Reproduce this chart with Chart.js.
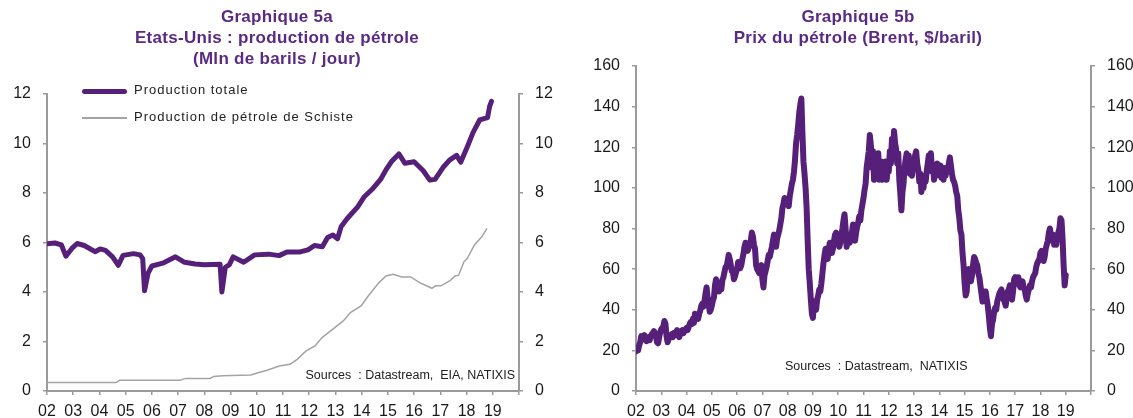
<!DOCTYPE html>
<html>
<head>
<meta charset="utf-8">
<script src="https://cdn.jsdelivr.net/npm/chart.js@4.4.0/dist/chart.umd.min.js"></script>
<style>
  body { margin: 0; background: #fff; width: 1133px; height: 418px; overflow: hidden; position: relative;
         font-family: "Liberation Sans", Arial, sans-serif; }
  canvas { position: absolute; top: 0; }
  .title { position: absolute; top: 6px; text-align: center; color: #5a2a82; font-weight: bold;
           font-size: 17px; line-height: 21px; letter-spacing: 0.3px; }
  .legend { position: absolute; left: 82px; font-size: 13px; color: #222; letter-spacing: 1px; }
  .legend div { position: relative; height: 27px; line-height: 14px; }
  .legend span.s { position: absolute; left: 0; top: 6px; width: 45px; }
  .legend span.t { position: absolute; left: 52px; top: 0; white-space: nowrap; }
  .src { position: absolute; font-size: 12.5px; color: #222; white-space: nowrap; }
</style>
</head>
<body>
<canvas id="chart-prod" width="560" height="418" style="left:0"></canvas>
<canvas id="chart-brent" width="563" height="418" style="left:570px"></canvas>

<div class="title" style="left:77px;width:400px">Graphique 5a<br>Etats-Unis : production de pétrole<br>(Mln de barils / jour)</div>
<div class="title" style="left:658px;width:400px">Graphique 5b<br>Prix du pétrole (Brent, $/baril)</div>

<div class="legend" style="top:83px">
  <div><span class="s" style="height:5px;border-radius:3px;background:#561f79"></span><span class="t">Production totale</span></div>
  <div><span class="s" style="top:7px;height:1.5px;background:#a3a3a3"></span><span class="t">Production de pétrole de Schiste</span></div>
</div>
<div class="src" style="right:618px;top:368px">Sources &nbsp;: Datastream,&nbsp; EIA, NATIXIS</div>
<div class="src" style="left:785px;top:359px">Sources &nbsp;: Datastream,&nbsp; NATIXIS</div>

<script>
// Graphique 5a : production totale (Mln b/j)
var prodT = [2002.0, 2002.3, 2002.55, 2002.72, 2002.95, 2003.15, 2003.42, 2003.83, 2004.03, 2004.23,
  2004.5, 2004.72, 2004.9, 2005.3, 2005.55, 2005.65, 2005.72, 2005.85, 2006.0, 2006.45,
  2006.9, 2007.25, 2007.65, 2008.0, 2008.6, 2008.67, 2008.8, 2008.95, 2009.1, 2009.5,
  2009.92, 2010.45, 2010.85, 2011.15, 2011.65, 2011.95, 2012.2, 2012.5, 2012.7, 2012.9,
  2013.08, 2013.22, 2013.45, 2013.85, 2014.1, 2014.4, 2014.72, 2014.92, 2015.13, 2015.42,
  2015.65, 2016.0, 2016.35, 2016.6, 2016.8, 2017.1, 2017.35, 2017.62, 2017.78, 2018.03,
  2018.25, 2018.5, 2018.8, 2018.88, 2018.95];
var prodV = [5.95, 5.98, 5.9, 5.45, 5.76, 5.96, 5.88, 5.63, 5.74, 5.68,
  5.42, 5.08, 5.48, 5.55, 5.5, 5.35, 4.05, 4.75, 5.05, 5.18,
  5.42, 5.2, 5.13, 5.1, 5.12, 4.0, 5.0, 5.1, 5.42, 5.2,
  5.5, 5.53, 5.47, 5.62, 5.62, 5.7, 5.88, 5.83, 6.2, 6.3,
  6.15, 6.65, 6.97, 7.44, 7.85, 8.15, 8.55, 8.92, 9.26, 9.58,
  9.2, 9.26, 8.9, 8.52, 8.55, 9.03, 9.33, 9.52, 9.25, 9.87,
  10.45, 10.95, 11.05, 11.5, 11.7];

// production de petrole de schiste
var shaleT = [2002.0, 2004.64, 2004.77, 2007.07, 2007.28, 2008.22, 2008.36, 2008.7, 2009.78, 2010.05,
  2010.39, 2010.86, 2011.27, 2011.54, 2011.88, 2012.22, 2012.49, 2012.89, 2013.3, 2013.57,
  2013.98, 2014.25, 2014.66, 2014.93, 2015.2, 2015.53, 2015.87, 2016.21, 2016.68, 2016.82,
  2017.02, 2017.36, 2017.56, 2017.7, 2017.9, 2018.03, 2018.3, 2018.58, 2018.78];
var shaleV = [0.34, 0.34, 0.43, 0.43, 0.51, 0.51, 0.59, 0.62, 0.65, 0.74,
  0.84, 1.01, 1.08, 1.28, 1.62, 1.82, 2.16, 2.49, 2.83, 3.17,
  3.44, 3.84, 4.38, 4.65, 4.72, 4.61, 4.61, 4.38, 4.15, 4.25,
  4.25, 4.45, 4.65, 4.68, 5.22, 5.36, 5.9, 6.23, 6.57];

// Graphique 5b : Brent, 2 valeurs par mois
var brent2002 = [19.5, 21, 20, 22.5, 24, 27, 26.5, 25.5, 27.5, 26, 24.5, 25.5, 26.5, 25, 27, 28, 28.5, 29.5, 28.5, 27, 24, 23.5, 26.5, 29];
var brent2003 = [30.5, 31, 32, 34.5, 33, 27, 24, 25.5, 26.5, 27, 28, 26.5, 28.5, 27.5, 29, 30, 27.5, 26.5, 28, 29.5, 30, 28.5, 29.5, 30.5];
var brent2004 = [31, 30, 31.5, 33, 34, 33, 35.5, 33.5, 38, 36, 37, 35.5, 38, 39.5, 42, 43, 41.5, 44, 48, 51, 46, 43, 39, 40];
var brent2005 = [42, 44.5, 46, 52, 55, 53, 51, 49, 52, 50, 54.5, 56, 58.5, 61, 61, 64, 67, 65, 62, 59, 58.5, 55, 56.5, 58.5];
var brent2006 = [60, 63.5, 61, 60.5, 62, 65, 67.5, 71, 73, 70, 69, 70.5, 72.5, 74, 78, 76, 72, 70, 62, 60, 59, 58, 61, 62];
var brent2007 = [55, 51, 57, 59, 61, 64, 67, 66, 68.5, 71, 74, 77, 76, 71, 75, 77, 79, 82, 85, 90, 92, 95, 92, 93];
var brent2008 = [93, 91, 96, 99, 102, 104, 108, 114, 122, 126, 131, 137, 141, 144, 127, 113, 107, 100, 90, 74, 60, 53, 45, 38];
var brent2009 = [36, 44, 42, 40, 45, 47, 50, 49, 53, 58, 63, 67, 70, 67, 65, 70, 73, 70, 68, 70, 74, 77, 78, 75];
var brent2010 = [76, 71, 73, 77, 80, 84, 87, 80, 71, 75, 77, 73, 76, 78, 82, 76, 74, 78, 81, 83, 86, 84, 89, 92];
var brent2011 = [95, 99, 102, 110, 114, 118, 126, 121, 110, 118, 104, 116, 112, 106, 117, 104, 108, 113, 104, 110, 106, 113, 104, 110];
var brent2012 = [108, 118, 112, 124, 118, 128, 122, 119, 112, 117, 104, 97, 89, 98, 102, 110, 114, 117, 109, 116, 107, 112, 106, 111];
var brent2013 = [110, 116, 118, 112, 109, 103, 107, 98, 104, 100, 106, 103, 108, 112, 116, 110, 117, 108, 111, 104, 110, 106, 112, 109];
var brent2014 = [107, 111, 105, 110, 104, 109, 106, 110, 108, 112, 115, 111, 107, 104, 103, 101, 98, 96, 89, 85, 79, 77, 68, 62];
var brent2015 = [53, 47, 49, 58, 60, 56, 54, 57, 62, 66, 65, 63, 62, 58, 56, 52, 48, 44, 49, 47, 49, 45, 42, 37];
var brent2016 = [31, 27, 33, 35, 39, 41, 40, 44, 46, 48, 49, 50, 47, 45, 44, 42, 46, 49, 50, 52, 47, 45, 49, 55];
var brent2017 = [56, 55, 56, 56, 52, 51, 53, 54, 51, 50, 47, 45, 48, 50, 52, 51, 54, 56, 57, 58, 61, 63, 64, 65];
var brent2018 = [68, 69, 66, 64, 66, 70, 72, 74, 78, 80, 76, 74, 77, 72, 74, 72, 76, 78, 80, 85, 84, 75, 62, 52];
var brent2019 = [57];

var yearLabels = ['02','03','04','05','06','07','08','09','10','11','12','13','14','15','16','17','18','19'];

var purple = '#561f79';
var axisGrey = '#9a9a9a';

function pairs(t, v) {
  var out = [];
  for (var i = 0; i < Math.min(t.length, v.length); i++) out.push({x: t[i], y: v[i]});
  return out;
}

var brentYears = [brent2002, brent2003, brent2004, brent2005, brent2006, brent2007, brent2008, brent2009,
  brent2010, brent2011, brent2012, brent2013, brent2014, brent2015, brent2016, brent2017, brent2018, brent2019];
var brentPts = [];
brentYears.forEach(function(vals, k){
  vals.forEach(function(v, i){ brentPts.push({x: 2002 + k + i / 24, y: v}); });
});

function makeOptions(ymax, ystep, leftW, rightW, topPad) {
  var tickFont = { family: 'Liberation Sans', size: 16 };
  var axisGrid = { display: true, drawOnChartArea: false, drawTicks: true, tickLength: 4, color: axisGrey, lineWidth: 1.5 };
  var yAxis = function(pos, w) {
    return {
      type: 'linear', position: pos, min: 0, max: ymax,
      grid: axisGrid,
      border: { display: true, color: axisGrey, width: 2 },
      ticks: { stepSize: ystep, color: '#1a1a1a', font: tickFont, padding: 12 },
      afterFit: function(s){ s.width = w; }
    };
  };
  return {
    responsive: false,
    animation: false,
    layout: { padding: { top: topPad, left: 0, right: 0, bottom: 0 } },
    plugins: { legend: { display: false }, tooltip: { enabled: false } },
    scales: {
      x: {
        type: 'linear', min: 2002, max: 2020,
        grid: axisGrid,
        border: { display: true, color: axisGrey, width: 2 },
        ticks: {
          stepSize: 1, color: '#1a1a1a', font: tickFont, padding: 7, maxRotation: 0, autoSkip: false,
          callback: function(v){ return yearLabels[v - 2002] || ''; }
        },
        afterFit: function(s){ s.height = 27; }
      },
      y: yAxis('left', leftW),
      y2: yAxis('right', rightW)
    }
  };
}

new Chart(document.getElementById('chart-prod').getContext('2d'), {
  type: 'line',
  data: {
    datasets: [
      { label: 'Production de pétrole de Schiste', data: pairs(shaleT, shaleV), borderColor: '#a3a3a3',
        borderWidth: 1.5, pointRadius: 0, tension: 0, yAxisID: 'y' },
      { label: 'Production totale', data: pairs(prodT, prodV), borderColor: purple,
        borderWidth: 5, pointRadius: 0, tension: 0, borderJoinStyle: 'round', borderCapStyle: 'round', yAxisID: 'y' }
    ]
  },
  options: makeOptions(12, 2, 47, 41, 94)
});

new Chart(document.getElementById('chart-brent').getContext('2d'), {
  type: 'line',
  data: {
    datasets: [
      { label: 'Brent', data: brentPts, borderColor: purple, borderWidth: 6, pointRadius: 0, tension: 0,
        borderJoinStyle: 'round', borderCapStyle: 'round', yAxisID: 'y' }
    ]
  },
  options: makeOptions(160, 20, 66, 42, 66)
});
</script>
</body>
</html>
